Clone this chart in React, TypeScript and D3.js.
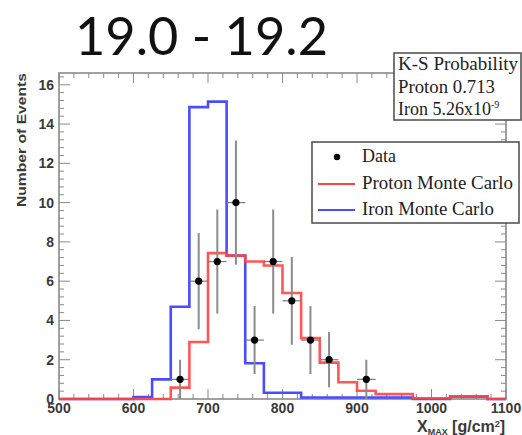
import React from "react";
import * as d3 from "d3";

const binEdges = [500, 525, 550, 575, 600, 625, 650, 675, 700, 725, 750, 775, 800, 825, 850, 875, 900, 925, 950, 975, 1000, 1025, 1050, 1075, 1100];
const protonMC = [0, 0, 0, 0, 0, 0, 0.58, 2.9, 7.43, 7.3, 7.0, 6.8, 5.4, 3.1, 1.85, 0.85, 0.42, 0.25, 0.25, 0.04, 0.04, 0.12, 0.12, 0];
const ironMC = [0, 0, 0, 0, 0.1, 1.0, 4.7, 14.86, 15.14, 7.3, 1.82, 0.32, 0.32, 0.08, 0.08, 0.08, 0.08, 0.08, 0.08, 0, 0, 0.12, 0.12, 0];

const dataX = [662.5, 687.5, 712.5, 737.5, 762.5, 787.5, 812.5, 837.5, 862.5, 912.5];
const dataY = [1, 6, 7, 10, 3, 7, 5, 3, 2, 1];
const dataErr = [1, 2.45, 2.65, 3.16, 1.73, 2.65, 2.24, 1.73, 1.41, 1];
const dataHalfWidth = 12.5;

const xTicks = [500, 600, 700, 800, 900, 1000, 1100];
const yTicks = [0, 2, 4, 6, 8, 10, 12, 14, 16];

const titleText = "19.0 - 19.2";
const ksLines = ["K-S Probability", "Proton 0.713"];
const legendLabels = ["Data", "Proton Monte Carlo", "Iron Monte Carlo"];

const W = 522, H = 435;
const L = 59, R = 506, T = 73, B = 399;
const RED = "#ff4545";
const BLUE = "#4c4cff";
const AX = "#8a8a8a";

export default function App() {
  const x = d3.scaleLinear().domain([500, 1100]).range([L, R]);
  const y = d3.scaleLinear().domain([0, 16.6]).range([B, T]);

  const stepPts = (vals: number[]) => {
    const pts: [number, number][] = vals.map((v, i) => [binEdges[i], v]);
    pts.push([binEdges[binEdges.length - 1], vals[vals.length - 1]]);
    return pts;
  };
  const line = d3
    .line<[number, number]>()
    .x((d) => x(d[0]))
    .y((d) => y(d[1]))
    .curve(d3.curveStepAfter);

  const xMinor = d3.range(500, 1100.1, 20);
  const yMinor = d3.range(0, 16.6, 0.4);

  const sans = "Liberation Sans, Arial, sans-serif";
  const serif = "Liberation Serif, Times New Roman, serif";

  return (
    <svg width={W} height={H} style={{ position: "absolute", left: 0, top: 0, background: "#fff" }}>
      <text x={75} y={55} fontFamily="Lato, sans-serif" fontSize={52} fill="#111" textLength={253} lengthAdjust="spacingAndGlyphs">
        {titleText}
      </text>

      {/* ticks */}
      <g stroke={AX} strokeWidth={1}>
        {xMinor.map((v) => {
          const major = xTicks.includes(Math.round(v));
          const len = major ? 10 : 5;
          return (
            <g key={"xt" + v}>
              <line x1={x(v)} x2={x(v)} y1={B} y2={B - len} />
              <line x1={x(v)} x2={x(v)} y1={T} y2={T + len} />
            </g>
          );
        })}
        {yMinor.map((v) => {
          const major = Math.abs(v / 2 - Math.round(v / 2)) < 1e-6;
          const len = major ? 11 : 5;
          return (
            <g key={"yt" + v}>
              <line x1={L} x2={L + len} y1={y(v)} y2={y(v)} />
              <line x1={R} x2={R - len} y1={y(v)} y2={y(v)} />
            </g>
          );
        })}
      </g>
      <rect x={L} y={T} width={R - L} height={B - T} fill="none" stroke={AX} strokeWidth={1.6} />

      {/* tick labels */}
      <g fontFamily={sans} fontWeight="bold" fontSize={14} fill="#3a3a3a">
        {yTicks.map((v) => (
          <text key={"yl" + v} x={54} y={y(v) + 5} textAnchor="end">
            {v}
          </text>
        ))}
        {xTicks.map((v) => (
          <text key={"xl" + v} x={x(v)} y={413} textAnchor="middle">
            {v}
          </text>
        ))}
      </g>
      <text
        transform={`translate(26,140) rotate(-90)`}
        textAnchor="middle"
        fontFamily={sans}
        fontWeight="bold"
        fontSize={13}
        fill="#3a3a3a"
        textLength={134}
        lengthAdjust="spacingAndGlyphs"
      >
        Number of Events
      </text>
      <text x={417} y={432} fontFamily={sans} fontWeight="bold" fontSize={16} fill="#3a3a3a">
        X<tspan fontSize={9} dy={3}>MAX</tspan>
        <tspan dy={-3}> [g/cm</tspan>
        <tspan fontSize={9} dy={-5}>2</tspan>
        <tspan dy={5}>]</tspan>
      </text>

      {/* histograms */}
      <path d={line(stepPts(ironMC)) || ""} fill="none" stroke={BLUE} strokeWidth={2.6} />
      <path d={line(stepPts(protonMC)) || ""} fill="none" stroke={RED} strokeWidth={2.6} strokeOpacity={0.9} />

      {/* data */}
      <g>
        {dataX.map((dx, i) => (
          <g key={"d" + i}>
            <line x1={x(dx)} x2={x(dx)} y1={y(Math.max(0, dataY[i] - dataErr[i]))} y2={y(dataY[i] + dataErr[i])} stroke="#8c8c8c" strokeWidth={2} />
            <line x1={x(dx - dataHalfWidth)} x2={x(dx + dataHalfWidth)} y1={y(dataY[i])} y2={y(dataY[i])} stroke="#7a7a7a" strokeWidth={1.2} />
            <circle cx={x(dx)} cy={y(dataY[i])} r={3.6} fill="#000" />
          </g>
        ))}
      </g>

      {/* K-S box */}
      <rect x={394} y={53} width={127} height={67} fill="#fff" stroke="#555" strokeWidth={1.6} />
      <g fontFamily={serif} fontSize={18} fill="#222">
        <text x={398} y={70} textLength={120} lengthAdjust="spacingAndGlyphs">{ksLines[0]}</text>
        <text x={398} y={93} textLength={97} lengthAdjust="spacingAndGlyphs">{ksLines[1]}</text>
        <text x={398} y={115}>
          Iron 5.26x10<tspan fontSize={10} dy={-7}>-9</tspan>
        </text>
      </g>

      {/* legend */}
      <rect x={312} y={142} width={207} height={81} fill="#fff" stroke="#555" strokeWidth={1.6} />
      <circle cx={337} cy={157} r={3.2} fill="#000" />
      <line x1={318} x2={355} y1={184} y2={184} stroke={RED} strokeWidth={2.2} />
      <line x1={318} x2={355} y1={210} y2={210} stroke={BLUE} strokeWidth={2.2} />
      <g fontFamily={serif} fontSize={18} fill="#222">
        <text x={362} y={162}>{legendLabels[0]}</text>
        <text x={362} y={189} textLength={151} lengthAdjust="spacingAndGlyphs">{legendLabels[1]}</text>
        <text x={362} y={215} textLength={132} lengthAdjust="spacingAndGlyphs">{legendLabels[2]}</text>
      </g>
    </svg>
  );
}
